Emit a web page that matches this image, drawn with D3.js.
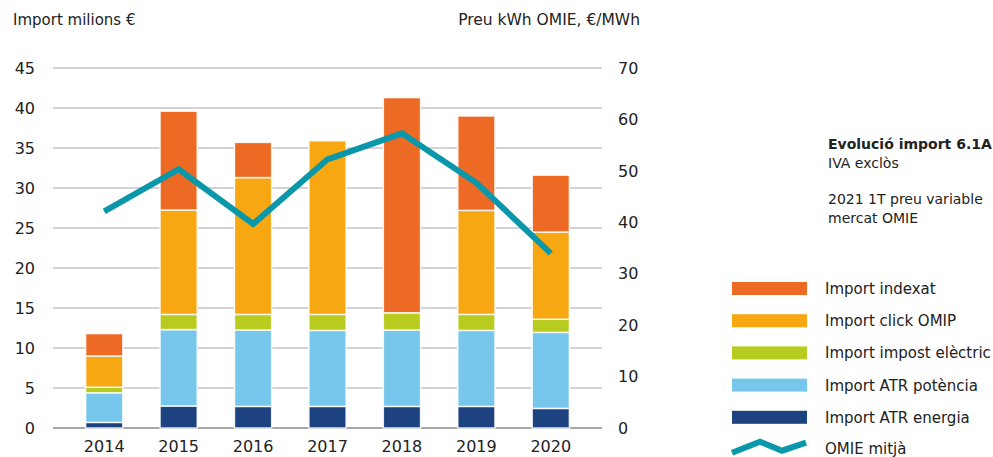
<!DOCTYPE html>
<html><head><meta charset="utf-8">
<script src="https://cdn.jsdelivr.net/npm/d3@7"></script>
<style>
body{margin:0;background:#fff;}
text{font-family:"DejaVu Sans",sans-serif;fill:#222;}
</style></head>
<body><svg id="c" width="993" height="457"></svg>
<script>
const years = ["2014","2015","2016","2017","2018","2019","2020"];
const atrEnergia = [0.7, 2.75, 2.7, 2.7, 2.7, 2.7, 2.45];
const atrPotencia = [3.7, 9.55, 9.55, 9.5, 9.55, 9.5, 9.5];
const impostElectric = [0.7, 1.9, 1.95, 2.0, 2.15, 2.0, 1.65];
const clickOMIP = [3.9, 13.05, 17.1, 21.7, 0, 13.0, 10.9];
const indexat = [2.8, 12.35, 4.4, 0, 26.9, 11.8, 7.1];
const omie = [42.13, 50.32, 39.67, 52.24, 57.29, 47.68, 33.96];
const leftTicks = [0,5,10,15,20,25,30,35,40,45];
const rightTicks = [0,10,20,30,40,50,60,70];

const seriesNames = ["Import ATR energia","Import ATR potència","Import impost elèctric","Import click OMIP","Import indexat"];
const seriesData = [atrEnergia, atrPotencia, impostElectric, clickOMIP, indexat];
const colors = ["#1c4280","#77c7ec","#b8cb1f","#f6a712","#ec6a23"];
const lineColor = "#0b97aa";

const svg = d3.select("#c");
const x0 = 53, x1 = 602;
const x = d3.scaleBand().domain(years).range([67, 588]).paddingInner(0.5).paddingOuter(0.25);
const yL = d3.scaleLinear().domain([0,45]).range([428,68]);
const yR = d3.scaleLinear().domain([0,70]).range([428,68]);

// gridlines
svg.append("g").selectAll("line").data(leftTicks).join("line")
  .attr("x1",x0).attr("x2",x1)
  .attr("y1",d=>yL(d)).attr("y2",d=>yL(d))
  .attr("stroke",d=>d===0?"#a8a8a8":"#c4c4c4").attr("stroke-width",d=>d===0?2:1.4);

// left axis labels
svg.append("g").selectAll("text").data(leftTicks).join("text")
  .attr("x",35).attr("y",d=>yL(d)).attr("dy","0.36em")
  .attr("text-anchor","end").attr("font-size",16).text(d=>d);
// right axis labels
svg.append("g").selectAll("text").data(rightTicks).join("text")
  .attr("x",618).attr("y",d=>yR(d)).attr("dy","0.36em")
  .attr("text-anchor","start").attr("font-size",16).text(d=>d);
// x labels
svg.append("g").selectAll("text").data(years).join("text")
  .attr("x",d=>x(d)+x.bandwidth()/2).attr("y",452)
  .attr("text-anchor","middle").attr("font-size",16).text(d=>d);

// stacked bars
const table = years.map((y,i)=>{const o={year:y}; seriesNames.forEach((s,j)=>o[s]=seriesData[j][i]); return o;});
const stack = d3.stack().keys(seriesNames)(table);
svg.append("g").selectAll("g").data(stack).join("g")
  .attr("fill",(d,i)=>colors[i])
  .selectAll("rect").data(d=>d.filter(e=>e[1]-e[0]>0)).join("rect")
  .attr("x",d=>x(d.data.year)).attr("width",x.bandwidth())
  .attr("y",d=>yL(d[1])).attr("height",d=>yL(d[0])-yL(d[1]))
  .attr("stroke","#fff").attr("stroke-opacity",0.85).attr("stroke-width",1.5);

// line
const line = d3.line().x((d,i)=>x(years[i])+x.bandwidth()/2).y(d=>yR(d));
svg.append("path").datum(omie).attr("d",line).attr("fill","none")
  .attr("stroke",lineColor).attr("stroke-width",6).attr("stroke-linejoin","miter");

// axis titles
svg.append("text").attr("x",13).attr("y",25).attr("font-size",15).attr("fill","#333").text("Import milions €");
svg.append("text").attr("x",640).attr("y",25).attr("text-anchor","end").attr("font-size",15.5).attr("fill","#333").text("Preu kWh OMIE, €/MWh");

// notes
const notes = [["Evolució import 6.1A",148.5,true],["IVA exclòs",168,false],["2021 1T preu variable",204,false],["mercat OMIE",223,false]];
svg.append("g").selectAll("text").data(notes).join("text")
  .attr("x",828).attr("y",d=>d[1]).attr("font-size",14)
  .attr("font-weight",d=>d[2]?"bold":"normal").text(d=>d[0]);

// legend
const legendOrder = [4,3,2,1,0];
const lg = svg.append("g");
legendOrder.forEach((si,k)=>{
  const cy = 288.5 + k*32.2;
  lg.append("rect").attr("x",732).attr("y",cy-6.5).attr("width",75).attr("height",13).attr("fill",colors[si]);
  lg.append("text").attr("x",825).attr("y",cy).attr("dy","0.36em").attr("font-size",15).attr("fill","#333").text(seriesNames[si]);
});
const zig = [[732,452.7],[760,441.7],[782,450.7],[806,442.7]];
lg.append("path").attr("d",d3.line()(zig)).attr("fill","none").attr("stroke",lineColor).attr("stroke-width",6);
lg.append("text").attr("x",825).attr("y",449).attr("dy","0.36em").attr("font-size",15).attr("fill","#333").text("OMIE mitjà");
</script></body></html>
